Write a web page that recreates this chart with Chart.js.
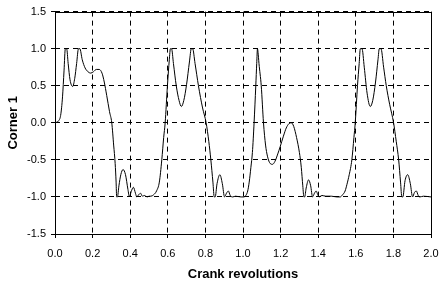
<!DOCTYPE html>
<html>
<head>
<meta charset="utf-8">
<script src="https://cdn.jsdelivr.net/npm/chart.js@4/dist/chart.umd.min.js"></script>
<style>
  html, body { margin: 0; padding: 0; background: #fff; }
  #wrap { width: 441px; height: 285px; }
</style>
</head>
<body>
<div id="wrap"><canvas id="grafik"></canvas></div>
<script>
// Crank revolutions (x) and Corner 1 (y)
const putaran = [
  0, 0.02, 0.03, 0.04, 0.048, 0.055, 0.062, 0.07, 0.08, 0.094, 0.105, 0.115, 0.125, 0.132,
  0.145, 0.16, 0.175, 0.19, 0.205, 0.22, 0.235, 0.25, 0.262, 0.275, 0.29, 0.302, 0.312, 0.32,
  0.325, 0.328, 0.332, 0.34, 0.35, 0.362, 0.375, 0.388, 0.396, 0.405, 0.417, 0.428, 0.435,
  0.445, 0.455, 0.465, 0.475, 0.49, 0.5, 0.51, 0.525, 0.54, 0.555, 0.568, 0.578, 0.586, 0.598,
  0.608, 0.614, 0.62, 0.63, 0.645, 0.66, 0.672, 0.685, 0.7, 0.715, 0.725, 0.732, 0.745, 0.763,
  0.785, 0.804, 0.818, 0.829, 0.84, 0.847, 0.852, 0.862, 0.877, 0.89, 0.902, 0.912, 0.922,
  0.932, 0.945, 0.96, 0.99, 1.005, 1.015, 1.025, 1.033, 1.042, 1.05, 1.059, 1.068, 1.073,
  1.077, 1.08, 1.085, 1.097, 1.109, 1.12, 1.13, 1.145, 1.157, 1.17, 1.185, 1.198, 1.215, 1.23,
  1.245, 1.257, 1.27, 1.285, 1.3, 1.31, 1.318, 1.324, 1.328, 1.336, 1.349, 1.36, 1.37, 1.38,
  1.389, 1.398, 1.405, 1.42, 1.44, 1.47, 1.5, 1.517, 1.53, 1.543, 1.553, 1.565, 1.579, 1.59,
  1.597, 1.609, 1.618, 1.624, 1.633, 1.645, 1.66, 1.677, 1.69, 1.705, 1.718, 1.725, 1.734,
  1.748, 1.762, 1.78, 1.801, 1.815, 1.828, 1.838, 1.845, 1.85, 1.862, 1.876, 1.89, 1.902,
  1.912, 1.922, 1.932, 1.94, 1.96, 2.0
];
const sudut = [
  0, 0.03, 0.1, 0.35, 0.7, 1.0, 1.0, 0.8, 0.58, 0.49, 0.6, 0.8, 1.0, 1.0,
  0.85, 0.74, 0.69, 0.67, 0.69, 0.72, 0.72, 0.67, 0.55, 0.37, 0.15, 0.0, -0.3, -0.55,
  -0.8, -1.0, -1.0, -0.85, -0.7, -0.63, -0.7, -0.9, -1.0, -0.93, -0.87, -0.95, -1.0,
  -0.97, -0.95, -0.99, -0.98, -1.0, -0.99, -0.99, -0.97, -0.92, -0.8, -0.5, -0.2, 0.0, 0.5,
  0.85, 1.0, 1.0, 0.8, 0.5, 0.3, 0.22, 0.3, 0.52, 0.82, 1.0, 1.0, 0.8, 0.5,
  0.2, 0.0, -0.25, -0.5, -0.8, -1.0, -1.0, -0.82, -0.7, -0.82, -1.0, -0.95, -0.92,
  -0.98, -1.0, -0.99, -1.0, -1.0, -0.98, -0.92, -0.8, -0.6, -0.4, 0.0, 0.5, 0.8,
  1.0, 0.95, 0.8, 0.5, 0.0, -0.3, -0.45, -0.55, -0.56, -0.52, -0.42, -0.32, -0.18, -0.07,
  -0.01, 0.0, -0.05, -0.2, -0.4, -0.6, -0.85, -1.0, -1.0, -0.88, -0.77, -0.85, -1.0, -0.95,
  -0.92, -0.97, -1.0, -0.98, -0.99, -0.99, -1.0, -1.0, -0.97, -0.92, -0.83, -0.7, -0.5, -0.2,
  0.0, 0.5, 0.8, 1.0, 1.0, 0.75, 0.4, 0.22, 0.3, 0.55, 0.85, 1.0, 1.0,
  0.75, 0.5, 0.25, 0.0, -0.25, -0.5, -0.8, -1.0, -1.0, -0.78, -0.7, -0.82, -1.0,
  -0.94, -0.92, -0.98, -1.0, -0.99, -1.0
];
const tickX = [0, 0.2, 0.4, 0.6, 0.8, 1.0, 1.2, 1.4, 1.6, 1.8, 2.0];
const tickY = [-1.5, -1.0, -0.5, 0.0, 0.5, 1.0, 1.5];

const titikData = putaran.map((x, i) => ({ x: x, y: sudut[i] }));

// kotak bingkai area plot (garis solid)
const bingkai = {
  id: 'bingkai',
  afterDraw(chart) {
    const a = chart.chartArea;
    const ctx = chart.ctx;
    ctx.save();
    ctx.strokeStyle = '#000';
    ctx.lineWidth = 1;
    ctx.setLineDash([]);
    ctx.strokeRect(Math.round(a.left) + 0.5, Math.round(a.top) + 0.5,
      Math.round(a.right - a.left), Math.round(a.bottom - a.top));
    ctx.restore();
  }
};

const fontTick = { family: 'Liberation Sans, Arial, sans-serif', size: 11 };
const fontJudul = { family: 'Liberation Sans, Arial, sans-serif', size: 13, weight: 'bold' };

new Chart(document.getElementById('grafik'), {
  type: 'line',
  data: {
    datasets: [{
      data: titikData,
      borderColor: '#000',
      borderWidth: 1,
      pointRadius: 0,
      fill: false,
      cubicInterpolationMode: 'monotone'
    }]
  },
  options: {
    responsive: true,
    maintainAspectRatio: false,
    animation: false,
    layout: { padding: { top: 10, right: 10, left: 0, bottom: 0 } },
    plugins: { legend: { display: false }, tooltip: { enabled: false } },
    scales: {
      x: {
        type: 'linear',
        min: 0,
        max: 2,
        afterBuildTicks: s => { s.ticks = tickX.map(v => ({ value: v })); },
        afterFit: s => { s.height = 51; s.paddingLeft = 0; s.paddingRight = 0; },
        ticks: {
          color: '#000',
          font: fontTick,
          padding: 9,
          maxRotation: 0,
          callback: v => v.toFixed(1)
        },
        grid: { color: '#000', tickColor: '#000', tickLength: 4, lineWidth: 1 },
        border: { display: false, dash: [5, 4] },
        title: { display: true, text: 'Crank revolutions', color: '#000', font: fontJudul, padding: { top: 2, bottom: 3 } }
      },
      y: {
        min: -1.5,
        max: 1.5,
        afterBuildTicks: s => { s.ticks = tickY.map(v => ({ value: v })); },
        afterFit: s => { s.width = 55; },
        ticks: {
          color: '#000',
          font: fontTick,
          padding: 5,
          callback: v => v.toFixed(1)
        },
        grid: { color: '#000', tickColor: '#000', tickLength: 4, lineWidth: 1 },
        border: { display: false, dash: [5, 4] },
        title: { display: true, text: 'Corner 1', color: '#000', font: fontJudul, padding: { top: 6, bottom: 4 } }
      }
    }
  },
  plugins: [bingkai]
});
</script>
</body>
</html>
